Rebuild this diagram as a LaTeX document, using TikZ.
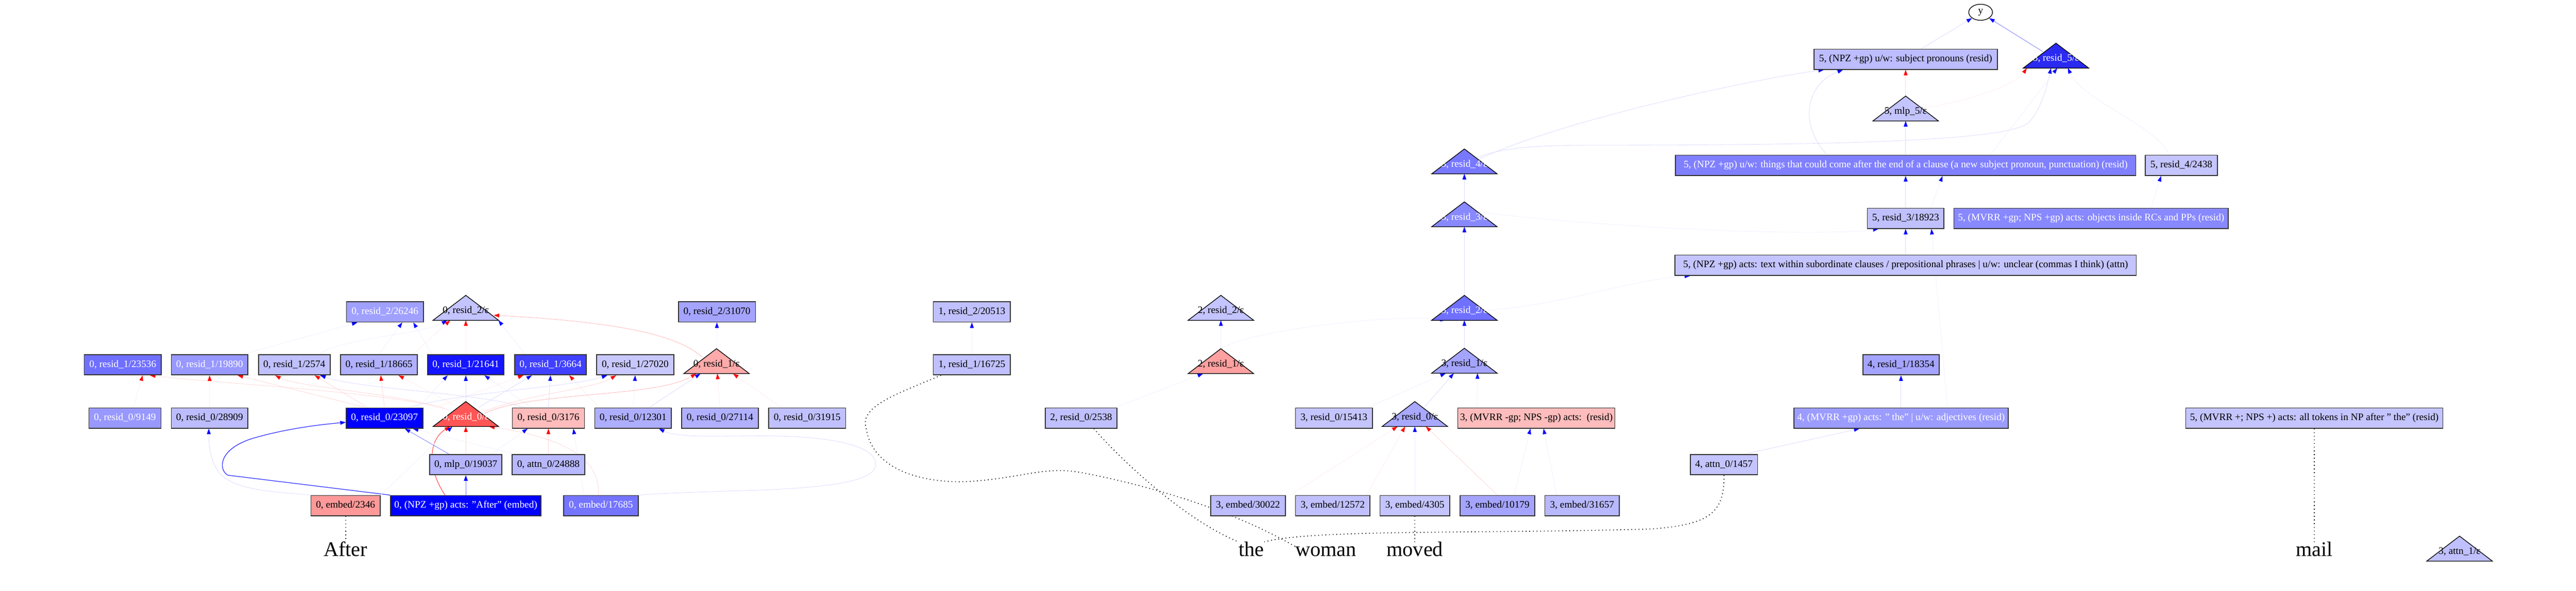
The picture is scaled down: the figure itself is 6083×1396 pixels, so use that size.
\documentclass[tikz,border=0pt]{standalone}
\usepackage{fontspec}
\setmainfont{Liberation Serif}
\usetikzlibrary{arrows.meta,shapes.geometric,backgrounds}
\newcommand\hx[1]{\definecolor{h#1}{HTML}{#1}}
\hx{A0A0FF}\hx{C4C4FF}\hx{A4A4FF}\hx{C0C0FF}\hx{7070FF}\hx{9898FF}\hx{B0B0FF}
\hx{1414FF}\hx{4040FF}\hx{C8C8FF}\hx{FFAAAA}\hx{FFA0A0}\hx{BCBCFF}\hx{0000FF}
\hx{FF5555}\hx{FFBCBC}\hx{AEAEFF}\hx{B4B4FF}\hx{B8B8FF}\hx{FF9999}\hx{7474FF}
\hx{A8A8FF}\hx{9C9CFF}\hx{8080FF}\hx{8888FF}\hx{7878FF}\hx{2A2AF0}
\hx{DCDCFF}\hx{FFD8D8}\hx{F0F0FF}\hx{FFEEEE}\hx{7A7AFF}\hx{2020FF}\hx{FF3A3A}\hx{FFB8B8}\hx{333333}
\newcommand\bfnt{\fontsize{11.75}{14}\selectfont}
\newcommand\wfnt{\fontsize{24.5}{28}\selectfont}
\tikzset{
  bxs/.style={rectangle, draw=h333333, line width=1pt, minimum height=24pt,
    inner xsep=1.5pt, inner ysep=0pt, font=\bfnt, text height=8.2pt, text depth=2.6pt},
  trib/.style={rectangle, draw=none, inner sep=0pt, outer sep=0pt,
    minimum width=77.5pt, minimum height=29.5pt},
  tril/.style={font=\bfnt, inner sep=0pt, text height=8.2pt, text depth=2.6pt},
  wrd/.style={font=\wfnt, inner sep=0pt, anchor=base},
  tipb/.style={-{Triangle[length=6.5pt,width=4.5pt,color=blue]}},
  tipr/.style={-{Triangle[length=6.5pt,width=4.5pt,color=red]}},
  eb/.style={draw=hF0F0FF, line width=0.5pt, tipb},
  er/.style={draw=hFFEEEE, line width=0.5pt, tipr},
  ebv/.style={draw=hDCDCFF, line width=0.5pt, tipb},
  erv/.style={draw=hFFD8D8, line width=0.5pt, tipr},
  ebm/.style={draw=h7A7AFF, line width=0.5pt, tipb},
  ebs/.style={draw=h2020FF, line width=0.7pt, tipb},
  ers/.style={draw=hFF3A3A, line width=0.6pt, tipr},
  erm/.style={draw=hFFB8B8, line width=0.5pt, tipr},
  wd/.style={draw=black, line width=1pt, dash pattern=on 0.9pt off 3.4pt},
}
\newcommand\bx[7]{\node[bxs, minimum width=#4*0.5pt, fill=h#5, text=#6] (#1) at (#2,#3) {#7};}
\newcommand\tri[6]{%
  \node[trib] (#1) at (#2,#3+29.5) {};
  \filldraw[fill=h#4, draw=black, line width=0.8pt, line join=miter]
    (#1.south west) -- (#1.north) -- (#1.south east) -- cycle;
  \node[tril, text=#5] (#1l) at ([yshift=-3.75pt]#1.center) {#6};
}
\begin{document}
\begin{tikzpicture}[x=0.5pt,y=-0.5pt]
\useasboundingbox (0,0) rectangle (6083,1396);
\begin{scope}[on background layer]
  \fill[white] (0,0) rectangle (6083,1396);
\end{scope}

% ---------- row A ----------
\bx{n26246}{909}{737}{182}{A0A0FF}{white}{0, resid\_2/26246}
\tri{t0r2}{1100}{698}{C4C4FF}{black}{0, resid\_2/ε}
\bx{n31070}{1693}{737}{182}{A4A4FF}{black}{0, resid\_2/31070}
\bx{n20513}{2295}{737}{182}{C0C0FF}{black}{1, resid\_2/20513}
\tri{t2r2}{2883}{698}{C4C4FF}{black}{2, resid\_2/ε}
\tri{t3r2}{3458}{698}{7070FF}{white}{3, resid\_2/ε}

% ---------- row B ----------
\bx{n23536}{290}{862}{182}{7070FF}{white}{0, resid\_1/23536}
\bx{n19890}{495}{862}{181}{9898FF}{white}{0, resid\_1/19890}
\bx{n2574}{695}{862}{169}{C0C0FF}{black}{0, resid\_1/2574}
\bx{n18665}{895}{862}{181}{B0B0FF}{black}{0, resid\_1/18665}
\bx{n21641}{1100}{862}{181}{1414FF}{white}{0, resid\_1/21641}
\bx{n3664}{1300}{862}{169}{4040FF}{white}{0, resid\_1/3664}
\bx{n27020}{1500}{862}{182}{C8C8FF}{black}{0, resid\_1/27020}
\tri{t0r1}{1692}{824}{FFAAAA}{black}{0, resid\_1/ε}
\bx{n16725}{2295}{862}{182}{C0C0FF}{black}{1, resid\_1/16725}
\tri{t2r1}{2883}{824}{FFA0A0}{black}{2, resid\_1/ε}
\tri{t3r1}{3458}{823}{A4A4FF}{black}{3, resid\_1/ε}
\bx{n18354}{4489}{862}{180}{A4A4FF}{black}{4, resid\_1/18354}

% ---------- row C ----------
\bx{n9149}{295}{988}{170}{9898FF}{white}{0, resid\_0/9149}
\bx{n28909}{495}{988}{181}{BCBCFF}{black}{0, resid\_0/28909}
\bx{n23097}{908}{988}{181}{0000FF}{white}{0, resid\_0/23097}
\tri{t0r0}{1100}{949}{FF5555}{white}{0, resid\_0/ε}
\bx{n3176}{1295}{988}{170}{FFBCBC}{black}{0, resid\_0/3176}
\bx{n12301}{1495}{988}{181}{AEAEFF}{black}{0, resid\_0/12301}
\bx{n27114}{1700}{988}{181}{B0B0FF}{black}{0, resid\_0/27114}
\bx{n31915}{1906}{988}{182}{C0C0FF}{black}{0, resid\_0/31915}
\bx{n2538}{2553}{988}{169}{C0C0FF}{black}{2, resid\_0/2538}
\bx{n15413}{3150}{988}{182}{C4C4FF}{black}{3, resid\_0/15413}
\tri{t3r0}{3341}{949}{A8A8FF}{black}{3, resid\_0/ε}
\bx{n3mvrr}{3628}{988}{371}{FFBCBC}{black}{3, (MVRR -gp; NPS -gp) acts:\ \ (resid)}
\bx{n4mvrr}{4489}{988}{506}{9C9CFF}{white}{4, (MVRR +gp) acts: " the" | u/w: adjectives (resid)}
\bx{n5mvrr}{5465}{988}{607}{C4C4FF}{black}{5, (MVRR +; NPS +) acts: all tokens in NP after " the" (resid)}

% ---------- row D ----------
\bx{n19037}{1100}{1098}{170}{B4B4FF}{black}{0, mlp\_0/19037}
\bx{n24888}{1295}{1098}{172}{B8B8FF}{black}{0, attn\_0/24888}
\bx{n1457}{4071}{1098}{159}{C4C4FF}{black}{4, attn\_0/1457}

% ---------- row E ----------
\bx{e2346}{816}{1195}{164}{FF9999}{black}{0, embed/2346}
\bx{eAfter}{1100}{1195}{355}{0000FF}{white}{0, (NPZ +gp) acts: "After" (embed)}
\bx{e17685}{1419}{1195}{176}{7474FF}{white}{0, embed/17685}
\bx{e30022}{2947}{1195}{176}{BCBCFF}{black}{3, embed/30022}
\bx{e12572}{3147}{1195}{176}{C0C0FF}{black}{3, embed/12572}
\bx{e4305}{3341}{1195}{165}{C4C4FF}{black}{3, embed/4305}
\bx{e10179}{3536}{1195}{177}{A4A4FF}{black}{3, embed/10179}
\bx{e31657}{3736}{1195}{176}{B8B8FF}{black}{3, embed/31657}

% ---------- upper part ----------
\node[ellipse, draw=black, line width=0.8pt, fill=white, minimum width=28pt,
  minimum height=19pt, inner sep=0pt, font=\bfnt] (ny) at (4677,29) {y};
\bx{nsubj}{4500}{140}{433}{BCBCFF}{black}{5, (NPZ +gp) u/w: subject pronouns (resid)}
\tri{t5r5}{4855}{102}{2A2AF0}{white}{5, resid\_5/ε}
\tri{t5m5}{4500}{227}{C4C4FF}{black}{5, mlp\_5/ε}
\bx{nthings}{4500}{391}{1087}{8080FF}{white}{5, (NPZ +gp) u/w: things that could come after the end of a clause (a new subject pronoun, punctuation) (resid)}
\bx{n2438}{5151}{391}{171}{C4C4FF}{black}{5, resid\_4/2438}
\tri{t3r4}{3458}{352}{7878FF}{white}{3, resid\_4/ε}
\bx{n18923}{4500}{516}{181}{C0C0FF}{black}{5, resid\_3/18923}
\bx{n5obj}{4938}{516}{648}{8888FF}{white}{5, (MVRR +gp; NPS +gp) acts: objects inside RCs and PPs (resid)}
\tri{t3r3}{3458}{477}{8888FF}{white}{3, resid\_3/ε}
\bx{n5text}{4500}{627}{1089}{C4C4FF}{black}{5, (NPZ +gp) acts: text within subordinate clauses / prepositional phrases | u/w: unclear (commas I think) (attn)}
\tri{t3a1}{5808}{1267}{C0C0FF}{black}{3, attn\_1/ε}

% ---------- words ----------
\node[wrd] (wAfter) at (816,1315) {After};
\node[wrd] (wthe) at (2955,1315) {the};
\node[wrd] (wwoman) at (3131,1315) {woman};
\node[wrd] (wmoved) at (3341,1315) {moved};
\node[wrd] (wmail) at (5465,1315) {mail};

% ---------- connectors ----------
\begin{scope}[on background layer]
% top
\draw[ebm] ([xshift=-15.5pt,yshift=-10pt]t5r5.north) -- (ny.south east);
\draw[ebv] ([xshift=18.5pt]nsubj.north) -- (ny.south west);
\draw[ebv] ([xshift=15pt,yshift=-10pt]t3r4.north) .. controls (3560,345) and (3650,343) .. (3800,343)
  .. controls (4300,343) and (4740,335) .. (4790,290) .. controls (4820,260) and (4835,200) .. ([xshift=-6pt]t5r5.south);
\draw[ebv] ([xshift=17pt,yshift=-12pt]t3r4.north) .. controls (3700,280) and (4150,185) .. ([xshift=-96.5pt]nsubj.south);
\draw[ebv] ([xshift=-92.5pt]nthings.north) .. controls (4250,300) and (4260,200) .. ([xshift=-74pt]nsubj.south);
\draw[erv] (t5m5.north) -- (nsubj.south);
\draw[ebv] (nthings.north) -- (t5m5.south);
\draw[eb] ([xshift=100pt]nthings.north) -- ([xshift=1.5pt]t5r5.south);
\draw[er] ([xshift=20pt,yshift=-14pt]t5m5.north) .. controls (4650,240) and (4760,200) .. ([xshift=-34.5pt]t5r5.south);
\draw[eb] ([xshift=-15pt]n2438.north) .. controls (5100,300) and (4920,240) .. ([xshift=14pt]t5r5.south);
\draw[ebv] (n18923.north) -- (nthings.south);
\draw[eb] ([xshift=30pt]n18923.north) -- ([xshift=43.5pt]nthings.south);
\draw[eb] ([xshift=71pt]n5obj.north) -- ([xshift=-24pt]n2438.south);
\draw[ebv] (n5text.north) -- (n18923.south);
\draw[eb] ([xshift=17pt,yshift=-12pt]t3r3.north) .. controls (3800,540) and (4300,560) .. ([xshift=-32pt]n18923.south);
\draw[eb] ([xshift=55pt]n4mvrr.north) -- ([xshift=30.5pt]n18923.south);
\draw[eb] ([xshift=23pt,yshift=-18pt]t3r2.north) .. controls (3700,720) and (3850,660) .. ([xshift=-254.5pt]n5text.south);
\draw[eb] (t2r1.north) .. controls (2950,780) and (3300,740) .. ([xshift=-22pt]t3r2.south);
\draw[ebv] (t3r1.north) -- (t3r2.south);
\draw[ebv] (t3r2.north) -- (t3r3.south);
\draw[ebv] (t3r3.north) -- (t3r4.south);
\draw[ebv] (n4mvrr.north) -- (n18354.south);
\draw[ebv] ([xshift=24.5pt]n1457.north) -- ([xshift=-49pt]n4mvrr.south);
% layer 3
\draw[ebv] ([xshift=11pt,yshift=-7pt]t3r0.north) -- ([xshift=-12.5pt]t3r1.south);
\draw[eb] ([xshift=40pt]n15413.north) -- ([xshift=-22pt]t3r1.south);
\draw[eb] ([xshift=-70pt]n3mvrr.north) -- ([xshift=15.5pt]t3r1.south);
\draw[erv] (e10179.north) -- ([xshift=13pt]t3r0.south);
\draw[eb] (e4305.north) -- (t3r0.south);
\draw[er] ([xshift=40pt]e12572.north) -- ([xshift=-11.5pt]t3r0.south);
\draw[er] ([xshift=50pt]e30022.north) -- ([xshift=-20.5pt]t3r0.south);
\draw[eb] ([xshift=20pt]e10179.north) -- ([xshift=-7pt]n3mvrr.south);
\draw[eb] ([xshift=-30pt]e31657.north) -- ([xshift=8.5pt]n3mvrr.south);
% layers 1-2
\draw[eb] ([xshift=40pt]n2538.north) -- ([xshift=-21pt]t2r1.south);
\draw[eb] (t2r1.north) -- (t2r2.south);
\draw[eb] (n16725.north) -- (n20513.south);
\draw[eb] (t0r1.north) -- (n31070.south);
% layer 0: into row A
\draw[erm] ([xshift=-17pt,yshift=-10pt]t0r1.north) .. controls (1600,790) and (1450,760) .. ([xshift=33pt,yshift=-23.5pt]t0r2.north);
\draw[eb] ([xshift=30pt]n2574.north) .. controls (800,800) and (1000,790) .. ([xshift=-22pt]t0r2.south);
\draw[er] ([xshift=40pt]n18665.north) -- ([xshift=-18.5pt]t0r2.south);
\draw[er] (n21641.north) -- (t0r2.south);
\draw[eb] ([xshift=-30pt]n3664.north) -- ([xshift=38.5pt]t0r2.south);
\draw[eb] ([xshift=40pt]n19890.north) -- ([xshift=-32.5pt]n26246.south);
\draw[eb] (n18665.north) -- ([xshift=20.5pt]n26246.south);
\draw[eb] ([xshift=-40pt]n21641.north) -- ([xshift=33.5pt]n26246.south);
% into row B
\draw[er] ([xshift=10pt]n9149.north) -- ([xshift=23.5pt]n23536.south);
\draw[erv] ([xshift=-25pt,yshift=-8pt]t0r0.north) .. controls (900,925) and (500,905) .. ([xshift=32pt]n23536.south);
\draw[er] (n28909.north) -- (n19890.south);
\draw[erv] ([xshift=-22pt]n23097.north) -- ([xshift=33pt]n19890.south);
\draw[erv] ([xshift=-20pt,yshift=-10pt]t0r0.north) .. controls (950,930) and (700,915) .. ([xshift=-22.5pt]n2574.south);
\draw[erv] ([xshift=-20pt]n23097.north) -- ([xshift=24pt]n2574.south);
\draw[ebv] ([xshift=-30pt]n3176.north) .. controls (1150,930) and (850,920) .. ([xshift=30.5pt]n2574.south);
\draw[erv] (n23097.north) -- ([xshift=2pt]n18665.south);
\draw[er] ([xshift=-10pt,yshift=-6pt]t0r0.north) -- ([xshift=23pt]n18665.south);
\draw[eb] ([xshift=40pt]n23097.north) -- ([xshift=-21.5pt]n21641.south);
\draw[ebv] (t0r0.north) -- (n21641.south);
\draw[eb] ([xshift=-20pt]n3176.north) -- ([xshift=22pt]n21641.south);
\draw[er] ([xshift=60pt]n23097.north) -- ([xshift=-32pt]n3664.south);
\draw[ebv] ([xshift=15pt,yshift=-7pt]t0r0.north) -- ([xshift=-22pt]n3664.south);
\draw[ebv] (n3176.north) -- (n3664.south);
\draw[er] ([xshift=-40pt]n12301.north) -- ([xshift=22pt]n3664.south);
\draw[ebv] ([xshift=28pt]n23097.north) .. controls (1100,925) and (1350,915) .. ([xshift=-33pt]n27020.south);
\draw[erv] ([xshift=20pt,yshift=-12pt]t0r0.north) .. controls (1250,930) and (1400,920) .. ([xshift=-22.5pt]n27020.south);
\draw[eb] (n12301.north) -- (n27020.south);
\draw[erm] ([xshift=22pt,yshift=-14pt]t0r0.north) .. controls (1250,925) and (1550,940) .. ([xshift=-24pt]t0r1.south);
\draw[ebv] ([xshift=19pt]n12301.north) -- ([xshift=-19pt]t0r1.south);
\draw[er] (n27114.north) -- ([xshift=1pt]t0r1.south);
\draw[er] ([xshift=-30pt]n31915.north) -- ([xshift=19.5pt]t0r1.south);
% into row C
\draw[ebs] (eAfter.north west) -- (538,1123) .. controls (515,1110) and (515,1060) .. (600,1035)
  .. controls (680,1012) and (760,1003) .. ([yshift=-5pt]n23097.west);
\draw[ebm] ([xshift=-20pt]n19037.north) -- ([xshift=24pt]n23097.south);
\draw[eb] ([xshift=-40pt]n24888.north) -- ([xshift=33.5pt]n23097.south);
\draw[ebv] (e2346.north west) .. controls (650,1162) and (560,1160) .. (520,1120)
  .. controls (495,1090) and (493,1050) .. ([xshift=-1pt]n28909.south);
\draw[ers] ([xshift=-24.5pt]eAfter.north) .. controls (1010,1110) and (1010,1040) .. ([xshift=-18.5pt]t0r0.south);
\draw[eb] (e2346.north east) -- ([xshift=-16pt]t0r0.south);
\draw[erv] (n19037.north) -- (t0r0.south);
\draw[erv] ([xshift=-3pt]e17685.north) .. controls (1420,1070) and (1300,1030) .. ([xshift=27.5pt]t0r0.south);
\draw[eb] ([xshift=30pt]n19037.north) -- ([xshift=-24.5pt]n3176.south);
\draw[erv] (n24888.north) -- (n3176.south);
\draw[eb] ([xshift=-20pt]e17685.north) -- ([xshift=29.5pt]n3176.south);
\draw[ebv] (e17685.north east) .. controls (1600,1163) and (1750,1160) .. (1800,1158)
  .. controls (2000,1150) and (2068,1130) .. (2068,1097)
  .. controls (2068,1050) and (1950,1030) .. (1800,1030)
  .. controls (1700,1030) and (1600,1035) .. ([xshift=30.5pt]n12301.south);
\draw[ebm] (eAfter.north) -- (n19037.south);
% word links
\draw[wd] (e2346.south) -- (wAfter.north);
\draw[wd] (e4305.south) -- (wmoved.north);
\draw[wd] (n5mvrr.south) -- (wmail.north);
\draw[wd] ([xshift=15pt]n2538.south) .. controls (2650,1090) and (2800,1230) .. (wthe.north west);
\draw[wd] (n1457.south) .. controls (4072,1210) and (4040,1240) .. (3900,1250)
  .. controls (3500,1262) and (3100,1250) .. (wthe.north east);
\draw[wd] ([xshift=-36.5pt]n16725.south) .. controls (2120,930) and (2030,960) .. (2045,1010)
  .. controls (2060,1120) and (2200,1145) .. (2300,1137)
  .. controls (2420,1128) and (2470,1100) .. (2560,1118)
  .. controls (2700,1145) and (2900,1200) .. (wwoman.north west);
\end{scope}
\end{tikzpicture}
\end{document}
